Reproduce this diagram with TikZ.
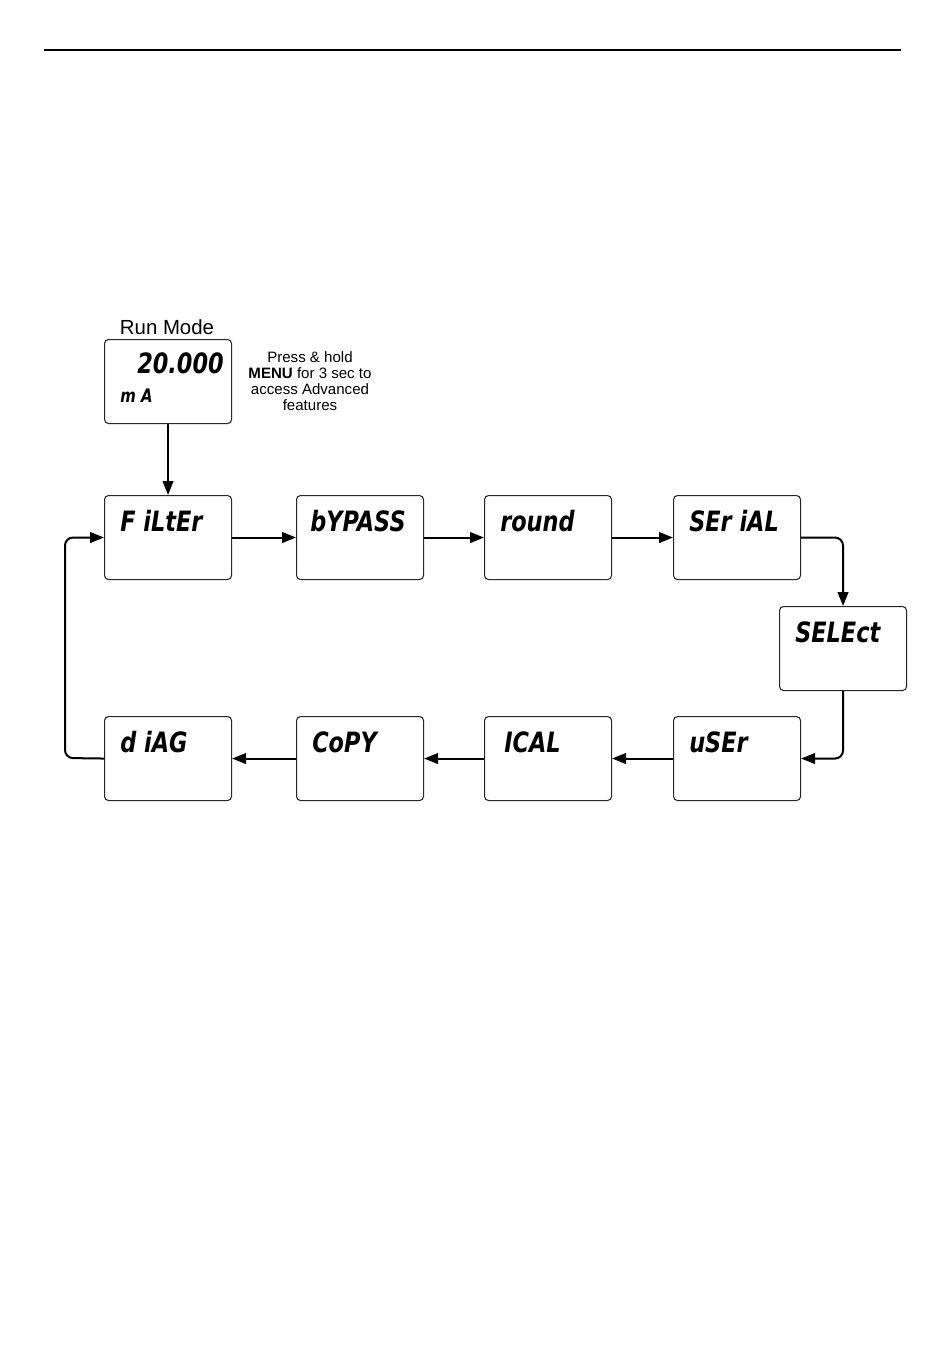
\documentclass[tikz,border=0pt]{standalone}
\usepackage{fontspec}
\setmainfont{Liberation Sans}
\newfontfamily\lcdfam{DejaVu Sans}
\usetikzlibrary{arrows.meta}
\newcommand{\lcdtxt}[1]{\scalebox{0.8}[1]{\lcdfam\bfseries\itshape #1}}
\tikzset{
  lcdbox/.style={draw=black!85, line width=0.8pt, rounded corners=3pt,
    minimum width=95.25pt, minimum height=63pt, anchor=north west, inner sep=0pt},
  lcdtext/.style={anchor=base west, inner sep=0pt, font=\fontsize{21}{21}\selectfont},
  flow/.style={line width=1.5pt, rounded corners=6pt, -{Triangle[length=10.5pt,width=8pt]}},
}
\begin{document}
\begin{tikzpicture}[x=0.75pt,y=-0.75pt]
\useasboundingbox (0,0) rectangle (950,1372);
\draw[line width=1.6pt] (44,50) -- (901,50);

% run mode
\node[font=\fontsize{15.3}{15}\selectfont] (runlbl) at (167,327) {Run Mode};
\node[lcdbox] (run) at (104,339) {};
\node[anchor=base east, inner sep=0pt, font=\fontsize{21}{21}\selectfont] (runval) at (224,373) {\lcdtxt{20.000}};
\node[anchor=base west, inner sep=0pt, font=\fontsize{14}{14}\selectfont] (rununit) at (120,402) {\lcdtxt{m A}};
\node[align=center, font=\fontsize{11.3}{12}\selectfont] (note) at (310,381)
  {Press \& hold\\\textbf{MENU} for 3 sec to\\access Advanced\\features};

% top row
\node[lcdbox] (filter) at (104,495) {};
\node[lcdbox] (bypass) at (296,495) {};
\node[lcdbox] (round)  at (484,495) {};
\node[lcdbox] (serial) at (673,495) {};
\node[lcdbox] (select) at (779,606) {};
\node[lcdbox] (diag)   at (104,716) {};
\node[lcdbox] (copy)   at (296,716) {};
\node[lcdbox] (ical)   at (484,716) {};
\node[lcdbox] (user)   at (673,716) {};

\node[lcdtext] (tfilter) at (120,531) {\lcdtxt{F iLtEr}};
\node[lcdtext] (tbypass) at (310,531) {\lcdtxt{bYPASS}};
\node[lcdtext] (tround)  at (500,531) {\lcdtxt{round}};
\node[lcdtext] (tserial) at (689,531) {\lcdtxt{SEr iAL}};
\node[lcdtext] (tselect) at (795,642) {\lcdtxt{SELEct}};
\node[lcdtext] (tdiag)   at (120,752) {\lcdtxt{d iAG}};
\node[lcdtext] (tcopy)   at (312,752) {\lcdtxt{CoPY}};
\node[lcdtext] (tical)   at (504,752) {\lcdtxt{ICAL}};
\node[lcdtext] (tuser)   at (689,752) {\lcdtxt{uSEr}};

\coordinate (lbend) at (65,758);

\draw[flow] (run.south) -- (filter.north);
\draw[flow] (filter.east) -- (bypass.west);
\draw[flow] (bypass.east) -- (round.west);
\draw[flow] (round.east) -- (serial.west);
\draw[flow] (serial.east) -| (select.north);
\draw[flow] (select.south) |- (user.east);
\draw[flow] (user.west) -- (ical.east);
\draw[flow] (ical.west) -- (copy.east);
\draw[flow] (copy.west) -- (diag.east);
\draw[flow] (diag.west) -- (lbend) |- (filter.west);
\end{tikzpicture}
\end{document}
